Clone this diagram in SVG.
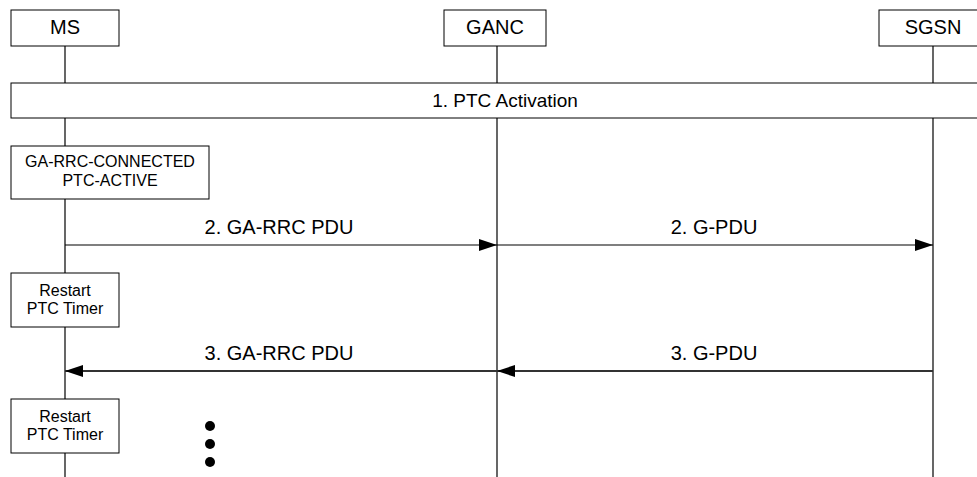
<svg xmlns="http://www.w3.org/2000/svg" width="977" height="477" viewBox="0 0 977 477">
<style>
.box{fill:#fff;stroke:#000;stroke-width:1}
.life{stroke:#000;stroke-width:1.2;fill:none}
.msg{stroke:#000;stroke-width:1.2;fill:none}
.msg3{stroke:#333;stroke-width:2;fill:none}
text{font-family:"Liberation Sans",Arial,sans-serif;fill:#000;text-anchor:middle}
.hdr{font-size:20px}
.lbl{font-size:20px}
.btxt{font-size:16px}
</style>
<defs>
<marker id="ah" markerWidth="18" markerHeight="12" refX="18" refY="6" orient="auto" markerUnits="userSpaceOnUse">
<path d="M0,0 L18,6 L0,12 Z" fill="#000"/>
</marker>
</defs>
<g id="lifelines">
<line class="life" x1="65" y1="46" x2="65" y2="477"/>
<line class="life" x1="497" y1="46" x2="497" y2="477"/>
<line class="life" x1="933" y1="46" x2="933" y2="477"/>
</g>
<g id="MS"><rect class="box" x="11" y="10" width="108" height="36"/><text class="hdr" x="65" y="34">MS</text></g>
<g id="GANC"><rect class="box" x="444" y="10" width="102" height="36"/><text class="hdr" x="495" y="34">GANC</text></g>
<g id="SGSN"><rect class="box" x="879" y="10" width="108" height="36"/><text class="hdr" x="933" y="34">SGSN</text></g>
<g id="ptc-activation"><rect class="box" x="11" y="83" width="980" height="35"/><text class="lbl" x="505" y="107" style="font-size:19px">1. PTC Activation</text></g>
<g id="state"><rect class="box" x="11" y="146" width="198" height="53"/><text class="btxt" x="110" y="167">GA-RRC-CONNECTED</text><text class="btxt" x="110" y="186">PTC-ACTIVE</text></g>
<g id="restart1"><rect class="box" x="11" y="273" width="108" height="54"/><text class="btxt" x="65" y="296">Restart</text><text class="btxt" x="65" y="314">PTC Timer</text></g>
<g id="restart2"><rect class="box" x="11" y="399" width="108" height="54"/><text class="btxt" x="65" y="422">Restart</text><text class="btxt" x="65" y="440">PTC Timer</text></g>
<g id="connectors">
<line class="msg" x1="65" y1="245" x2="497" y2="245" marker-end="url(#ah)"/>
<text class="lbl" x="279" y="234">2. GA-RRC PDU</text>
<line class="msg" x1="497" y1="245" x2="933" y2="245" marker-end="url(#ah)"/>
<text class="lbl" x="714" y="234">2. G-PDU</text>
<line class="msg3" x1="933" y1="371" x2="497" y2="371" marker-end="url(#ah)"/>
<text class="lbl" x="714" y="360">3. G-PDU</text>
<line class="msg3" x1="497" y1="371" x2="65" y2="371" marker-end="url(#ah)"/>
<text class="lbl" x="279" y="360">3. GA-RRC PDU</text>
</g>
<g id="ellipsis">
<circle cx="210" cy="426" r="5"/>
<circle cx="210" cy="444" r="5"/>
<circle cx="210" cy="462" r="5"/>
</g>
</svg>
